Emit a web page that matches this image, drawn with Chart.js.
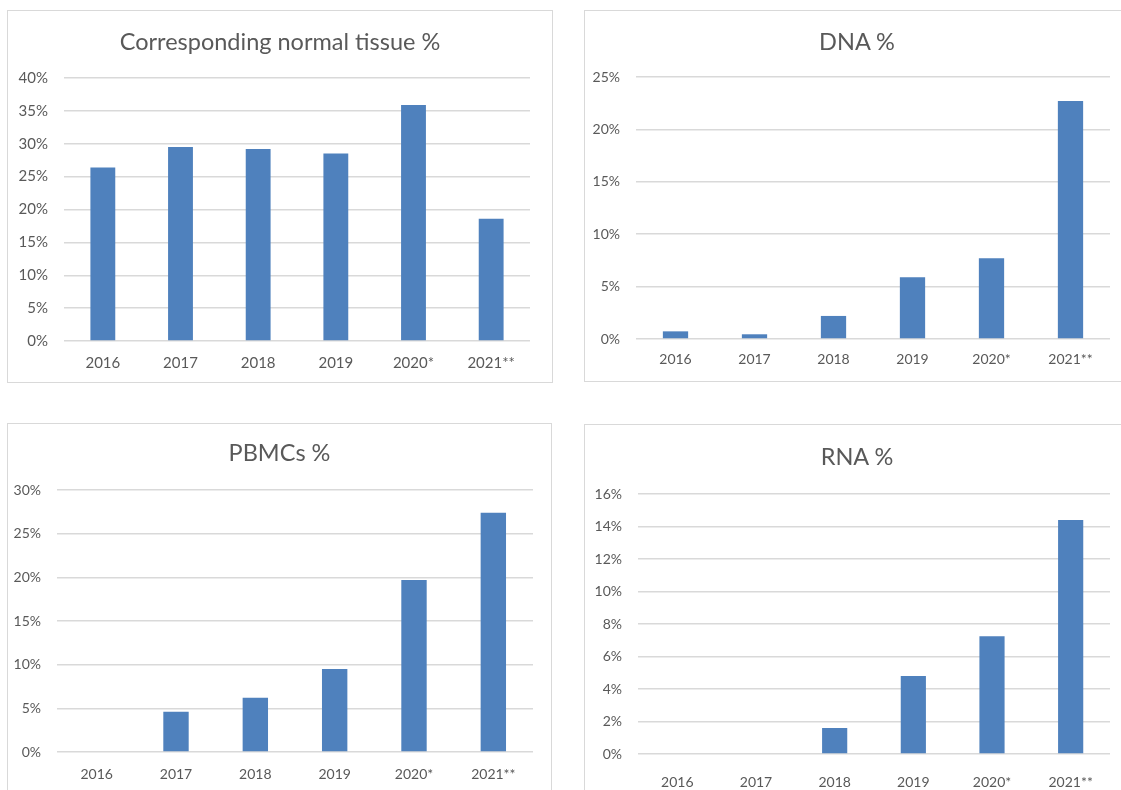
<!DOCTYPE html>
<html>
<head>
<meta charset="utf-8">
<script src="https://cdn.jsdelivr.net/npm/chart.js@4.4.1/dist/chart.umd.min.js"></script>
<style>
  html, body { margin: 0; padding: 0; background: #fff; }
  body { width: 1121px; height: 790px; overflow: hidden; position: relative; }
  .panel { position: absolute; border: 1px solid #d9d9d9; background: #fff; }
  .panel canvas { display: block; }
  .panel .title {
    position: absolute; left: 0; right: 0; text-align: center;
    font-family: Lato, sans-serif; font-size: 23.5px; line-height: 28px; color: #595959;
    white-space: nowrap;
  }
</style>
</head>
<body>
<div class="panel" id="p1"><canvas id="c1"></canvas><div class="title"></div></div>
<div class="panel" id="p2"><canvas id="c2"></canvas><div class="title"></div></div>
<div class="panel" id="p3"><canvas id="c3"></canvas><div class="title"></div></div>
<div class="panel" id="p4"><canvas id="c4"></canvas><div class="title"></div></div>
<script>
// data (percent)
const years = ['2016', '2017', '2018', '2019', '2020*', '2021**'];
const normalTissue = [26.4, 29.5, 29.2, 28.5, 35.9, 18.6];
const dna = [0.73, 0.45, 2.2, 5.9, 7.7, 22.7];
const pbmcs = [0, 4.6, 6.2, 9.5, 19.7, 27.4];
const rna = [0, 0, 1.6, 4.8, 7.25, 14.4];

const titles = ['Corresponding normal tissue %', 'DNA %', 'PBMCs %', 'RNA %'];
const yMax = [40, 25, 30, 16];
const yStep = [5, 5, 5, 2];

const barColor = '#4f81bd';
const textColor = '#595959';
const gridColor = '#d9d9d9';

// box = panel border rect, plot = wanted chart area (page coords)
const panels = [
  { id: 'p1', canvas: 'c1', data: normalTissue, box: [7, 10, 546, 373], plot: [64, 78, 530, 341], titleY: 41, tick: 15, xPad: 5 },
  { id: 'p2', canvas: 'c2', data: dna, box: [584, 10, 546, 372], plot: [636, 77, 1110, 339], titleY: 41, tick: 14, xPad: 4 },
  { id: 'p3', canvas: 'c3', data: pbmcs, box: [7, 423, 545, 380], plot: [57, 490, 533, 752], titleY: 452, tick: 14, xPad: 6 },
  { id: 'p4', canvas: 'c4', data: rna, box: [584, 424, 546, 380], plot: [638, 494, 1110, 754], titleY: 456, tick: 14, xPad: 12 }
];

panels.forEach(function (p, i) {
  const el = document.getElementById(p.id);
  const [bx, by, bw, bh] = p.box;
  el.style.left = bx + 'px';
  el.style.top = by + 'px';
  el.style.width = (bw - 2) + 'px';
  el.style.height = (bh - 2) + 'px';

  const cx = bx + 1, cy = by + 1, cw = bw - 2, ch = bh - 2;
  const canvas = document.getElementById(p.canvas);
  canvas.width = cw;
  canvas.height = ch;

  const title = el.querySelector('.title');
  title.textContent = titles[i];
  title.style.top = (p.titleY - cy - 14) + 'px';

  const yAxisWidth = p.plot[0] - cx;
  const rightPad = cx + cw - p.plot[2];
  const topPad = p.plot[1] - cy;
  const xAxisHeight = cy + ch - p.plot[3];

  new Chart(canvas.getContext('2d'), {
    type: 'bar',
    data: {
      labels: years,
      datasets: [{
        data: p.data,
        backgroundColor: barColor,
        borderWidth: 0,
        categoryPercentage: 1,
        barPercentage: 0.32
      }]
    },
    options: {
      responsive: false,
      animation: false,
      layout: { padding: { left: 0, right: rightPad, top: topPad, bottom: 0 } },
      plugins: {
        legend: { display: false },
        tooltip: { enabled: false },
        title: { display: false }
      },
      scales: {
        x: {
          grid: { display: false },
          border: { display: false },
          ticks: { color: textColor, font: { family: 'Lato', size: p.tick }, padding: p.xPad, maxRotation: 0 },
          afterFit: function (scale) { scale.height = xAxisHeight; }
        },
        y: {
          min: 0,
          max: yMax[i],
          grid: { color: gridColor, lineWidth: 1.5, drawTicks: false },
          border: { display: false },
          ticks: {
            stepSize: yStep[i],
            color: textColor,
            font: { family: 'Lato', size: p.tick },
            padding: 16,
            callback: function (v) { return v + '%'; }
          },
          afterFit: function (scale) { scale.width = yAxisWidth; }
        }
      }
    }
  });
});
</script>
</body>
</html>
